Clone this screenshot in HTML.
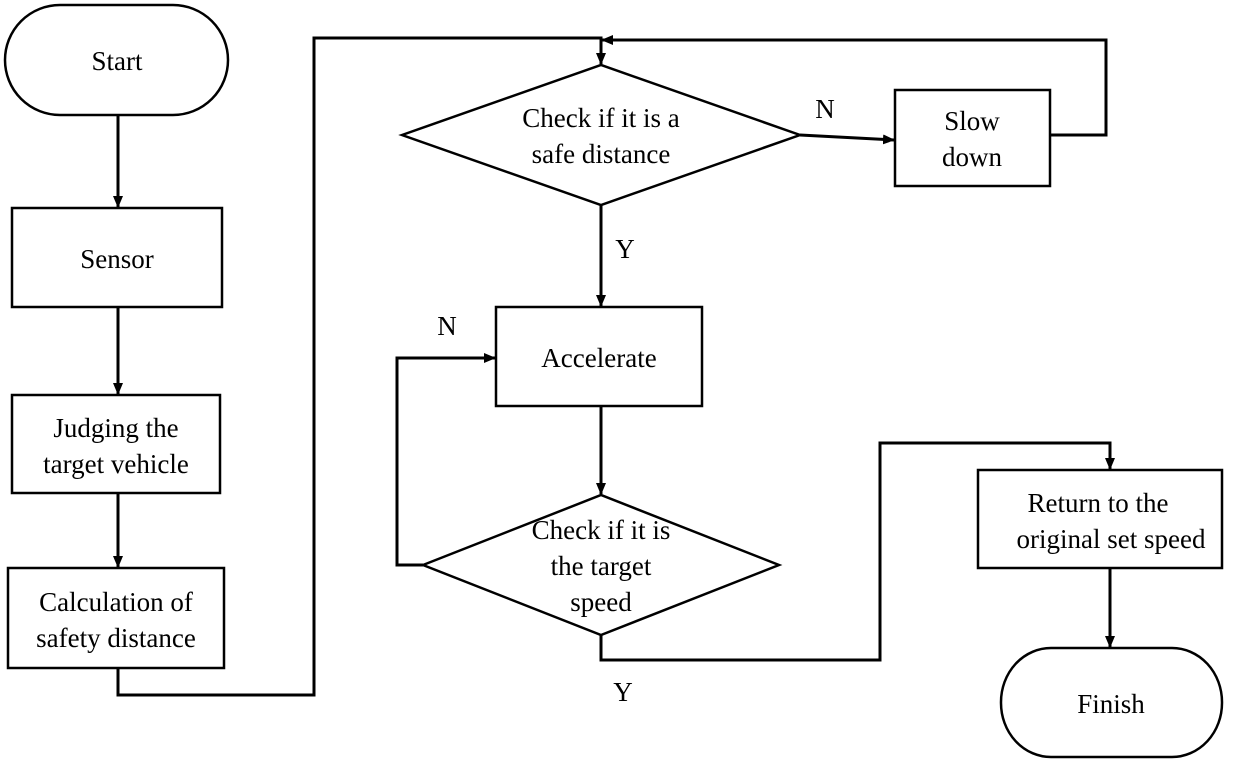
<!DOCTYPE html>
<html><head><meta charset="utf-8"><style>
html,body{margin:0;padding:0;background:#fff;}
svg{display:block;}
text{font-family:"Liberation Serif",serif;font-size:27px;fill:#000;text-anchor:middle;}
</style></head><body>
<svg width="1250" height="763" viewBox="0 0 1250 763">
<defs><marker id="a" markerWidth="12" markerHeight="12" refX="11" refY="6" orient="auto" markerUnits="userSpaceOnUse"><path d="M0,1 L12,6 L0,11 Z" fill="#000"/></marker></defs>
<g fill="none" stroke="#000" stroke-width="2.5">
<rect x="5" y="5" width="223" height="110" rx="55" ry="55"/>
<rect x="12" y="208" width="210" height="99"/>
<rect x="12" y="395" width="208" height="98"/>
<rect x="8" y="568" width="216" height="100"/>
<polygon points="402,135 601,65 800,135 601,205"/>
<rect x="895" y="90" width="155" height="96"/>
<rect x="496" y="307" width="206" height="99"/>
<polygon points="423,565 601,495 779,565 601,635"/>
<rect x="978" y="470" width="244" height="98"/>
<rect x="1001" y="648" width="221" height="109" rx="50" ry="54"/>
</g>
<g fill="none" stroke="#000" stroke-width="3" marker-end="url(#a)">
<line x1="118" y1="115" x2="118" y2="207"/>
<line x1="118" y1="307" x2="118" y2="394"/>
<line x1="118" y1="493" x2="118" y2="567"/>
<polyline points="118,668 118,695 314,695 314,38 601,38 601,64"/>
<line x1="800" y1="135" x2="894" y2="140"/>
<polyline points="1050,135 1106,135 1106,40 602,40"/>
<line x1="601" y1="205" x2="601" y2="306"/>
<line x1="601" y1="406" x2="601" y2="494"/>
<polyline points="423,565 397,565 397,358 495,358"/>
<polyline points="601,635 601,660 880,660 880,443 1110,443 1110,469"/>
<line x1="1110" y1="568" x2="1110" y2="647"/>
</g>
<text x="117" y="70">Start</text>
<text x="117" y="268">Sensor</text>
<text x="116" y="437">Judging the</text>
<text x="116" y="473">target vehicle</text>
<text x="116" y="611">Calculation of</text>
<text x="116" y="647">safety distance</text>
<text x="601" y="127">Check if it is a</text>
<text x="601" y="163">safe distance</text>
<text x="972" y="130">Slow</text>
<text x="972" y="166">down</text>
<text x="599" y="367">Accelerate</text>
<text x="601" y="539">Check if it is</text>
<text x="601" y="575">the target</text>
<text x="601" y="611">speed</text>
<text x="1098" y="512">Return to the</text>
<text x="1111" y="548">original set speed</text>
<text x="1111" y="713">Finish</text>
<text x="825" y="118">N</text>
<text x="625" y="258">Y</text>
<text x="447" y="335">N</text>
<text x="623" y="701">Y</text>
</svg>
</body></html>
